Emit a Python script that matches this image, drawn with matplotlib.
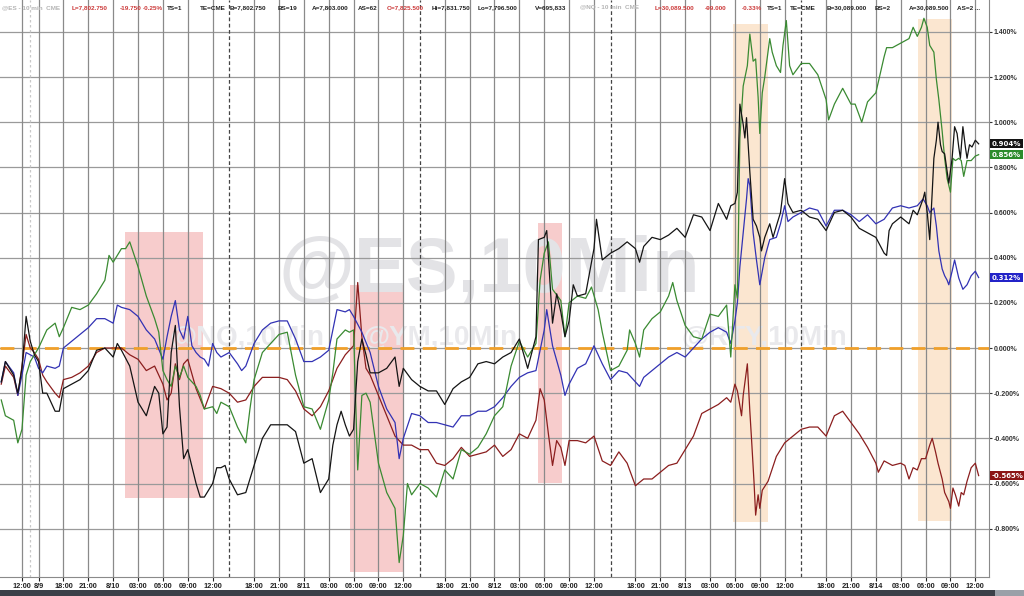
import numpy as np
import matplotlib
matplotlib.use("Agg")
import matplotlib.pyplot as plt
from matplotlib.patches import Rectangle
from matplotlib.transforms import blended_transform_factory

# x = trading hours since Fri 8/7 12:00 (weekend and the daily 14:00-15:00 halt removed)
# y = % change
es = [(-2.5, -0.15), (-2, -0.06), (-1, -0.12), (-0.5, -0.20), (0, -0.09), (0.5, 0.14), (1, 0.03), (1.5, -0.03),
      (2, -0.06), (2.5, -0.20), (3, -0.20), (4, -0.28), (4.5, -0.28), (5, -0.18), (6, -0.16), (7, -0.14), (8, -0.10),
      (9, -0.01), (10, 0.00), (11, -0.04), (11.5, 0.02), (12, -0.01), (13, -0.08), (14, -0.24), (15, -0.30),
      (16, -0.17), (16.5, -0.20), (17, -0.38), (17.5, -0.35), (18, -0.02), (18.5, 0.10), (19, -0.26), (19.5, -0.49),
      (20, -0.45), (21, -0.60), (21.5, -0.66), (22, -0.66), (23, -0.60), (23.5, -0.53), (24, -0.53), (24.5, -0.52),
      (25, -0.58), (26, -0.65), (27, -0.64), (28, -0.52), (29, -0.40), (30, -0.34), (31, -0.34), (32, -0.34),
      (33, -0.37), (34, -0.51), (35, -0.49), (36, -0.64), (37, -0.58), (37.5, -0.43), (38, -0.34), (38.5, -0.28),
      (39, -0.34), (39.5, -0.39), (40, -0.36), (40.5, -0.06), (41, 0.04), (41.5, -0.03), (42, -0.11), (43, -0.11),
      (44, -0.09), (45, -0.04), (45.5, -0.17), (46, -0.09), (47, -0.14), (48, -0.17), (49, -0.19), (50, -0.19),
      (51, -0.25), (52, -0.18), (53, -0.15), (54, -0.13), (55, -0.07), (56, -0.06), (57, -0.07), (58, -0.04),
      (59, -0.02), (60, 0.04), (61, -0.09), (62, 0.05), (62.3, 0.48), (63, 0.49), (63.3, 0.52), (64, 0.11),
      (64.5, 0.24), (65, 0.16), (65.5, 0.05), (66, 0.12), (66.5, 0.28), (67, 0.23), (68, 0.24), (69, 0.44),
      (69.3, 0.57), (70, 0.39), (71, 0.42), (72, 0.44), (73, 0.47), (74, 0.44), (74.5, 0.38), (75, 0.45), (76, 0.49),
      (77, 0.48), (78, 0.50), (79, 0.53), (80, 0.49), (81, 0.59), (82, 0.58), (83, 0.52), (84, 0.64), (85, 0.57),
      (85.5, 0.63), (86, 0.64), (86.3, 0.69), (86.6, 1.08), (87, 0.99), (87.2, 0.93), (87.4, 1.02), (87.8, 0.78),
      (88.2, 0.57), (88.6, 0.54), (89, 0.49), (89.2, 0.43), (89.6, 0.49), (90.2, 0.55), (90.6, 0.49), (91, 0.54),
      (91.5, 0.60), (92, 0.75), (92.4, 0.64), (93, 0.60), (94, 0.61), (95, 0.58), (96, 0.57), (97, 0.52), (98, 0.60),
      (99, 0.61), (100, 0.58), (101, 0.53), (102, 0.51), (103, 0.49), (104, 0.42), (104.3, 0.41), (104.6, 0.52),
      (105, 0.55), (106, 0.58), (107, 0.55), (107.5, 0.61), (108, 0.59), (108.7, 0.66), (108.9, 0.69), (109.2, 0.60),
      (109.5, 0.48), (109.8, 0.69), (110, 0.84), (110.3, 0.92), (110.5, 1.00), (110.8, 0.90), (111, 0.87),
      (111.3, 0.86), (111.6, 0.78), (111.8, 0.73), (112.2, 0.84), (112.5, 0.98), (112.8, 0.95), (113, 0.89),
      (113.2, 0.84), (113.5, 0.98), (113.8, 0.89), (114, 0.84), (114.3, 0.90), (114.6, 0.89), (115, 0.92),
      (115.4, 0.904)]

nq = [(-2.5, -0.23), (-2, -0.30), (-1, -0.32), (-0.5, -0.42), (0, -0.36), (0.5, -0.12), (1, -0.06), (1.5, -0.03),
      (2, 0.00), (2.5, 0.04), (3, 0.08), (4, 0.11), (4.5, 0.05), (5, 0.09), (6, 0.18), (7, 0.17), (8, 0.19), (9, 0.24),
      (10, 0.30), (10.5, 0.41), (11, 0.38), (12, 0.44), (12.5, 0.44), (13, 0.47), (14, 0.36), (15, 0.23), (16, 0.13),
      (16.5, 0.07), (17, -0.10), (17.5, -0.14), (18, -0.17), (18.5, -0.08), (19, -0.13), (19.5, -0.08), (20, -0.13),
      (21, -0.17), (21.5, -0.21), (22, -0.27), (23, -0.26), (23.5, -0.29), (24, -0.24), (25, -0.26), (26, -0.35),
      (27, -0.42), (27.5, -0.27), (28, -0.14), (29, -0.02), (30, 0.02), (31, 0.06), (32, 0.07), (33, -0.12),
      (34, -0.26), (35, -0.27), (36, -0.36), (37, -0.23), (37.5, -0.11), (38, 0.04), (39, 0.08), (39.5, 0.07),
      (40, 0.08), (40.5, -0.54), (41, -0.21), (41.5, -0.20), (42, -0.24), (43, -0.51), (44, -0.64), (45, -0.71),
      (45.5, -0.95), (46, -0.83), (46.5, -0.60), (47, -0.65), (48, -0.60), (49, -0.62), (50, -0.66), (51, -0.54),
      (52, -0.58), (53, -0.45), (54, -0.47), (55, -0.44), (56, -0.38), (57, -0.30), (58, -0.26), (59, -0.08),
      (60, 0.03), (61, -0.04), (62, 0.02), (62.5, 0.30), (63, 0.42), (63.5, 0.47), (64, 0.26), (65, 0.21),
      (65.5, 0.05), (66, 0.20), (67, 0.23), (68, 0.22), (68.7, 0.27), (69.5, 0.17), (70, 0.07), (71, -0.10),
      (72, -0.08), (73, -0.01), (73.3, 0.08), (74, 0.02), (74.5, -0.04), (75, 0.08), (76, 0.13), (77, 0.16),
      (78, 0.23), (78.5, 0.29), (79, 0.21), (80, 0.10), (81, 0.05), (82, 0.04), (83, 0.15), (84, 0.14), (85, 0.19),
      (85.5, -0.04), (86, 0.28), (86.3, 0.22), (86.6, 0.93), (87, 1.16), (87.5, 1.25), (87.8, 1.39), (88.2, 1.27),
      (88.5, 1.28), (88.8, 1.11), (89, 0.95), (89.3, 1.13), (89.6, 1.20), (90.2, 1.37), (90.5, 1.31), (91, 1.25),
      (91.5, 1.22), (91.8, 1.34), (92.2, 1.45), (92.6, 1.25), (93, 1.21), (94, 1.26), (95, 1.26), (96, 1.21),
      (97, 1.10), (97.3, 1.01), (98, 1.08), (99, 1.15), (100, 1.08), (100.5, 1.08), (101, 1.03), (101.3, 1.00),
      (102, 1.09), (103, 1.13), (104, 1.29), (104.3, 1.33), (105, 1.33), (106, 1.35), (107, 1.37), (107.5, 1.42),
      (108, 1.38), (108.5, 1.42), (108.8, 1.46), (109.2, 1.42), (109.5, 1.34), (110, 1.31), (110.3, 1.19),
      (110.6, 1.10), (111, 0.96), (111.3, 0.84), (111.6, 0.75), (112, 0.69), (112.3, 0.84), (112.6, 0.83),
      (113, 0.84), (113.3, 0.83), (113.6, 0.76), (114, 0.83), (114.5, 0.83), (115, 0.85), (115.4, 0.856)]

ym = [(-2.5, -0.15), (-2, -0.06), (-1, -0.11), (-0.5, -0.21), (0, -0.12), (0.5, -0.02), (1, -0.03), (1.5, -0.04),
      (2, -0.09), (2.5, -0.11), (3, -0.08), (4, -0.09), (4.5, -0.08), (5, 0.00), (6, 0.03), (7, 0.06), (8, 0.09),
      (9, 0.13), (10, 0.13), (11, 0.11), (11.5, 0.19), (12, 0.18), (13, 0.17), (14, 0.14), (15, 0.08), (16, 0.04),
      (17, -0.05), (17.5, 0.05), (18, 0.14), (18.5, 0.21), (19, 0.08), (19.5, 0.04), (20, 0.14), (20.5, 0.01),
      (21, -0.02), (21.5, -0.04), (22, -0.05), (22.5, -0.08), (23, 0.02), (23.5, -0.02), (24, -0.04), (25, -0.02),
      (26, -0.07), (26.5, -0.10), (27, -0.08), (28, 0.02), (29, 0.08), (30, 0.11), (31, 0.12), (32, 0.12), (33, 0.04),
      (34, -0.06), (35, -0.06), (36, -0.04), (37, -0.01), (37.5, 0.08), (38, 0.17), (39, 0.16), (39.5, 0.17),
      (40, 0.14), (41, 0.07), (42, -0.02), (43, -0.17), (44, -0.27), (45, -0.33), (45.5, -0.49), (46, -0.40),
      (47, -0.29), (48, -0.30), (49, -0.33), (50, -0.33), (51, -0.34), (52, -0.35), (53, -0.30), (54, -0.30),
      (55, -0.28), (56, -0.28), (57, -0.26), (58, -0.22), (59, -0.17), (60, -0.13), (61, -0.11), (62, -0.10),
      (63, 0.08), (63.3, 0.17), (64, 0.01), (65, -0.12), (65.5, -0.21), (66, -0.16), (67, -0.09), (68, -0.07),
      (69, 0.01), (70, -0.07), (71, -0.14), (72, -0.10), (73, -0.11), (74, -0.15), (74.5, -0.17), (75, -0.13),
      (76, -0.10), (77, -0.07), (78, -0.04), (79, -0.02), (80, -0.04), (81, 0.00), (82, 0.04), (83, 0.07), (84, 0.09),
      (85, 0.07), (85.5, 0.02), (86, 0.12), (86.3, 0.20), (86.6, 0.36), (87, 0.51), (87.4, 0.66), (87.6, 0.75),
      (87.8, 0.72), (88.2, 0.51), (88.6, 0.39), (89, 0.28), (89.3, 0.34), (89.6, 0.40), (90.2, 0.48), (91, 0.49),
      (91.5, 0.55), (92, 0.63), (92.4, 0.56), (93, 0.58), (94, 0.60), (95, 0.62), (96, 0.61), (97, 0.54), (98, 0.61),
      (99, 0.61), (100, 0.59), (101, 0.56), (102, 0.59), (103, 0.55), (104, 0.57), (105, 0.62), (106, 0.63),
      (107, 0.62), (108, 0.63), (108.7, 0.66), (109.2, 0.63), (109.5, 0.60), (110, 0.62), (110.3, 0.54),
      (110.6, 0.43), (111, 0.35), (111.3, 0.32), (111.6, 0.30), (111.8, 0.28), (112.2, 0.34), (112.5, 0.39),
      (113, 0.31), (113.5, 0.26), (114, 0.28), (114.5, 0.32), (115, 0.34), (115.4, 0.312)]

rty = [(-2.5, -0.16), (-2, -0.08), (-1, -0.13), (-0.5, -0.21), (0, -0.08), (0.5, 0.06), (1, 0.00), (1.5, -0.02),
       (2, -0.05), (2.5, -0.12), (3, -0.15), (4, -0.20), (4.5, -0.22), (5, -0.14), (6, -0.13), (7, -0.11), (8, -0.08),
       (9, -0.02), (10, 0.00), (11, 0.00), (12, 0.00), (13, -0.03), (14, -0.05), (15, -0.10), (16, -0.08),
       (17, -0.16), (17.5, -0.23), (18, -0.20), (18.5, -0.07), (19, -0.14), (19.5, -0.07), (20, -0.05), (21, -0.18),
       (22, -0.27), (23, -0.17), (24, -0.18), (25, -0.20), (26, -0.24), (27, -0.23), (28, -0.17), (29, -0.13),
       (30, -0.13), (31, -0.13), (32, -0.14), (33, -0.19), (34, -0.27), (35, -0.30), (36, -0.26), (37, -0.19),
       (38, -0.09), (39, -0.03), (40, 0.01), (40.5, 0.29), (41, 0.05), (41.5, -0.09), (42, -0.12), (43, -0.21),
       (44, -0.30), (45, -0.39), (46, -0.43), (47, -0.43), (48, -0.45), (49, -0.45), (50, -0.51), (51, -0.52),
       (52, -0.49), (53, -0.44), (54, -0.48), (55, -0.47), (56, -0.46), (57, -0.43), (58, -0.48), (59, -0.45),
       (60, -0.38), (61, -0.40), (62, -0.32), (62.5, -0.18), (63, -0.23), (63.5, -0.38), (64, -0.52), (64.5, -0.41),
       (65, -0.44), (65.5, -0.52), (66, -0.41), (67, -0.41), (68, -0.42), (69, -0.39), (70, -0.50), (71, -0.52),
       (72, -0.46), (73, -0.51), (74, -0.61), (75, -0.58), (76, -0.58), (77, -0.55), (78, -0.52), (79, -0.51),
       (80, -0.45), (81, -0.39), (82, -0.29), (83, -0.27), (84, -0.25), (85, -0.22), (85.5, -0.24), (86, -0.16),
       (86.3, -0.19), (86.8, -0.30), (87, -0.21), (87.5, -0.07), (87.8, -0.28), (88, -0.40), (88.3, -0.59),
       (88.5, -0.74), (88.8, -0.65), (89, -0.71), (89.3, -0.63), (90, -0.59), (91, -0.48), (92, -0.42), (93, -0.39),
       (94, -0.36), (95, -0.35), (96, -0.35), (97, -0.39), (98, -0.30), (99, -0.28), (100, -0.33), (101, -0.38),
       (102, -0.44), (103, -0.51), (103.3, -0.55), (104, -0.50), (105, -0.52), (106, -0.51), (106.5, -0.52),
       (107, -0.58), (107.5, -0.53), (108, -0.54), (108.5, -0.49), (109, -0.49), (109.5, -0.43), (109.8, -0.40),
       (110.2, -0.46), (110.5, -0.51), (111, -0.58), (111.3, -0.64), (111.8, -0.68), (112, -0.71), (112.3, -0.62),
       (112.6, -0.65), (113, -0.70), (113.3, -0.64), (113.6, -0.65), (114, -0.59), (114.5, -0.53), (115, -0.51),
       (115.4, -0.565)]

# x-axis ticks (trading hours) and labels
tick_hours = [0, 2, 5, 8, 11, 14, 17, 20, 23, 28, 31, 34, 37, 40, 43, 46, 51, 54, 57, 60, 63, 66, 69,
              74, 77, 80, 83, 86, 89, 92, 97, 100, 103, 106, 109, 112, 115]
tick_labels = ["12:00", "8/9",
               "18:00", "21:00", "8/10", "03:00", "06:00", "09:00", "12:00",
               "18:00", "21:00", "8/11", "03:00", "06:00", "09:00", "12:00",
               "18:00", "21:00", "8/12", "03:00", "06:00", "09:00", "12:00",
               "18:00", "21:00", "8/13", "03:00", "06:00", "09:00", "12:00",
               "18:00", "21:00", "8/14", "03:00", "06:00", "09:00", "12:00"]
session_breaks = [25, 48, 71, 94]
y_ticks = [-0.8, -0.6, -0.4, -0.2, 0.0, 0.2, 0.4, 0.6, 0.8, 1.0, 1.2, 1.4]

# highlighted windows: start hour, end hour, top %, bottom %, kind
highlights = [(12.4, 21.8, 0.514, -0.664, "red"),
              (39.6, 46.0, 0.279, -0.992, "red"),
              (62.2, 65.1, 0.554, -0.598, "red"),
              (85.8, 90.0, 1.435, -0.771, "tan"),
              (108.1, 112.2, 1.457, -0.766, "tan")]

series = [(rty, "#8b1e1e", "#8b1414"), (ym, "#3232b4", "#2323c8"),
          (nq, "#3a8a32", "#2c8c2c"), (es, "#141414", "#141414")]

fig = plt.figure(figsize=(10.24, 5.96), dpi=100)
ax = fig.add_axes([0, 19 / 596, 989 / 1024, 577 / 596])
ax.set_xlim(-2.65, 116.65)
ax.set_ylim(-1.014, 1.541)

shade = {"red": "#f7cccc", "tan": "#fbe6d0"}
for x0, x1, top, bot, kind in highlights:
    ax.add_patch(Rectangle((x0, bot), x1 - x0, top - bot, fc=shade[kind], ec="none", zorder=0))

# watermarks
wm = dict(family="Liberation Sans", fontweight="bold", zorder=0.5, ha="center", va="center")
ax.text(0.495, 0.53, "@ES,10Min", transform=ax.transAxes, fontsize=56, color="#e3e3e6", **wm)
ax.text(0.25, 0.415, "@NQ,10Min", transform=ax.transAxes, fontsize=20, color="#e9e9ec", **wm)
ax.text(0.445, 0.415, "@YM,10Min", transform=ax.transAxes, fontsize=20, color="#e9e9ec", **wm)
ax.text(0.773, 0.415, "@RTY,10Min", transform=ax.transAxes, fontsize=20, color="#e9e9ec", **wm)

# grid
for y in y_ticks:
    ax.axhline(y, color="#9a9a9a", lw=0.9, zorder=1)
for h in tick_hours:
    ax.axvline(h, color="#8a8a8a", lw=0.9, zorder=1)
for h in session_breaks:
    ax.axvline(h, color="#444444", lw=0.9, ls=(0, (3, 2)), zorder=1.1)
ax.axvline(1, color="#c8c8c8", lw=0.9, ls=(0, (2, 2)), zorder=1.1)

ax.axhline(0, color="#f0a02a", lw=2.0, ls=(0, (5, 3)), zorder=2.5)

trans = blended_transform_factory(ax.transAxes, ax.transData)
for data, lc, bc in series:
    arr = np.array(data)
    ax.plot(arr[:, 0], arr[:, 1], color=lc, lw=0.9, zorder=3)
    last = arr[-1, 1]
    ax.text(1.003, last, f"{last:.3f}%", transform=trans, ha="left", va="center", fontsize=5,
            color="white", fontweight="bold", clip_on=False, zorder=5,
            bbox=dict(boxstyle="square,pad=0.22", fc=bc, ec="none"))

ax.set_xticks(tick_hours, tick_labels)
ax.set_yticks(y_ticks, [f"{v:.3f}%" for v in y_ticks])
ax.yaxis.tick_right()
ax.tick_params(axis="x", length=3, pad=1.5, labelsize=5.3, colors="#222222", width=0.8)
ax.tick_params(axis="y", length=2, pad=1.5, labelsize=5, colors="#333333", width=0.8)
for lab in ax.get_xticklabels() + ax.get_yticklabels():
    lab.set_fontweight("bold")
    lab.set_family("Liberation Sans")
for s in ["top", "left"]:
    ax.spines[s].set_visible(False)
ax.spines["right"].set_color("#8a8a8a")
ax.spines["bottom"].set_color("#8a8a8a")

# quote header
gray, red, blk = "#b4b4b4", "#cc3a3a", "#222222"
header = [(2, "@ES - 10 min  CME", gray), (72, "L=7,802.750", red), (120, "-19.750", red), (143, "-0.25%", red),
          (167, "TS=1", blk), (200, "TE=CME", blk), (230, "B=7,802.750", blk), (278, "BS=19", blk),
          (312, "A=7,803.000", blk), (358, "AS=62", blk), (387, "O=7,825.500", red), (432, "Hi=7,831.750", blk),
          (478, "Lo=7,796.500", blk), (535, "V=695,833", blk), (580, "@NQ - 10 min  CME", gray),
          (655, "L=30,089.500", red), (705, "-99.000", red), (742, "-0.33%", red), (767, "TS=1", blk),
          (790, "TE=CME", blk), (827, "B=30,089.000", blk), (875, "BS=2", blk), (909, "A=30,089.500", blk),
          (957, "AS=2 ...", blk)]
for px, txt, col in header:
    fig.text(px / 1024, 1 - 8 / 596, txt, color=col, fontsize=4.6, fontweight="bold",
             family="Liberation Sans", ha="left", va="center")

fig.patches.append(Rectangle((0, 0), 1, 6 / 596, transform=fig.transFigure, fc="#3b4048", ec="none"))
fig.patches.append(Rectangle((995 / 1024, 0), 29 / 1024, 6 / 596, transform=fig.transFigure, fc="#9aa0a8", ec="none"))

fig.savefig("out.png", dpi=100)
